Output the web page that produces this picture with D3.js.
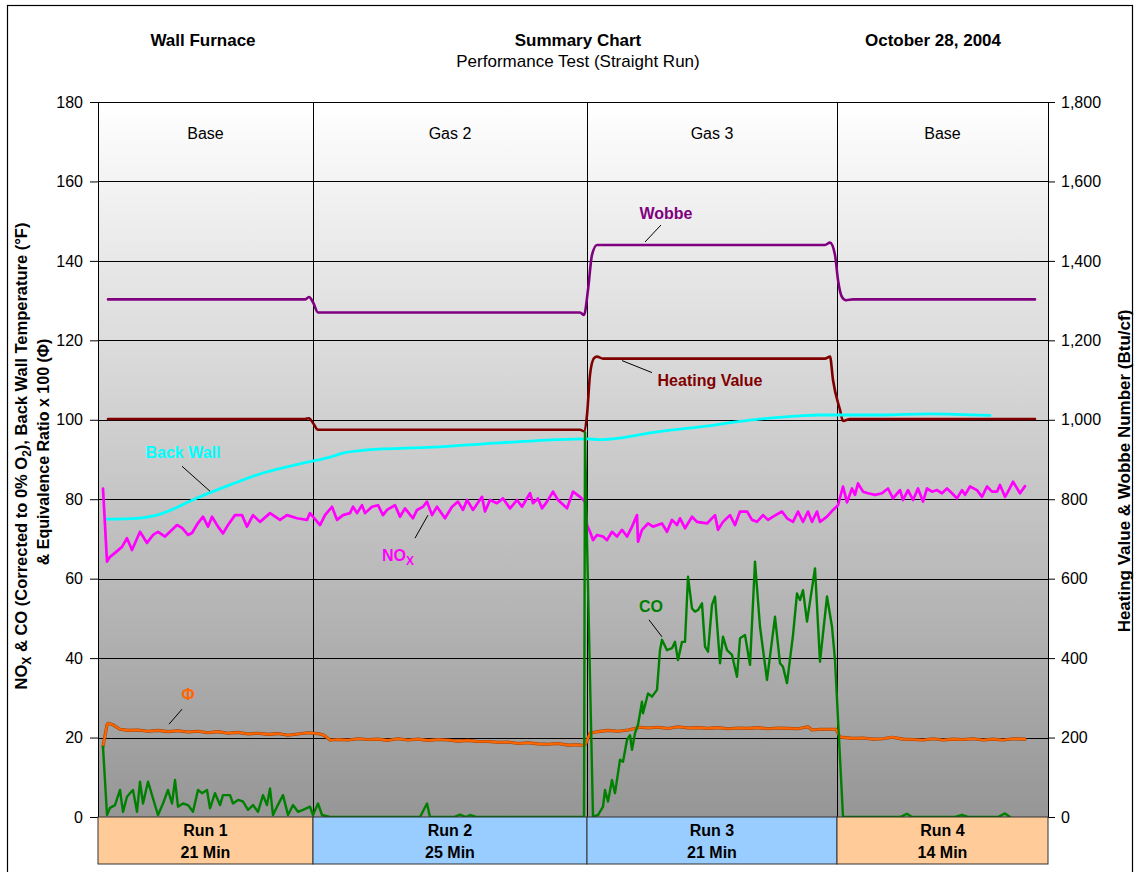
<!DOCTYPE html>
<html>

<head>
  <meta charset="utf-8" />
  <title>Summary Chart</title>
  <style>
    body {
      margin: 0;
      background: #fff;
    }

    svg text {
      font-family: "Liberation Sans", Arial, sans-serif;
    }
  </style>
  <script src="https://cdnjs.cloudflare.com/ajax/libs/d3/7.8.5/d3.min.js"></script>
</head>

<body>
  <div id="chart"></div>
  <script>
    // ---- values (x = elapsed minutes) ----
    var gasNames = ['Base', 'Gas 2', 'Gas 3', 'Base'];
    var runNames = ['Run 1', 'Run 2', 'Run 3', 'Run 4'];
    var runLengths = ['21 Min', '25 Min', '21 Min', '14 Min'];
    var runEdges = [0, 21.5, 48.9, 73.9, 95];

    var leftTicks = [0, 20, 40, 60, 80, 100, 120, 140, 160, 180];
    var rightTicks = [0, 200, 400, 600, 800, 1000, 1200, 1400, 1600, 1800];

    // Wobbe number, Btu/cf (right axis)
    var wobbeMin = [1.0, 20.7, 21.1, 21.5, 22.0, 48.2, 48.6, 49.0, 49.4, 49.9, 72.7, 73.2, 73.7, 74.0, 74.4, 74.8, 75.5, 93.7];
    var wobbe = [1303, 1303, 1309, 1296, 1270, 1270, 1264, 1327, 1415, 1440, 1440, 1446, 1415, 1352, 1309, 1301, 1303, 1303];

    // Heating value, Btu/cf (right axis)
    var heatMin = [1.0, 20.7, 21.1, 21.5, 22.0, 48.2, 48.6, 48.9, 49.2, 49.6, 49.9, 50.5, 72.7, 73.2, 73.5, 74.2, 74.5, 75.2, 93.7];
    var heat = [1002, 1002, 1004, 992, 975, 975, 971, 1012, 1113, 1155, 1159, 1154, 1154, 1159, 1100, 1025, 997, 1002, 1002];

    // Back wall temperature (left axis)
    var wallMin = [0.9, 3.9, 5.9, 9.9, 13.2, 16.5, 20.5, 23.2, 24.5, 26.9, 33.5, 40.2, 48.9, 50.2, 52.2, 55.2, 60.2, 65.2, 70.2, 72.2, 78.2, 83.2, 89.2];
    var wall = [75.0, 75.2, 76.0, 80.3, 83.6, 86.6, 89.1, 90.6, 91.6, 92.4, 93.1, 94.2, 95.2, 95.0, 95.4, 96.7, 98.2, 99.9, 101.0, 101.2, 101.2, 101.5, 101.1];

    // NOx corrected to 0% O2 (left axis)
    var noxMin = [0.5, 0.9, 1.2, 1.7, 2.4, 2.9, 3.4, 4.2, 4.9, 5.5, 6.0, 6.7, 7.9, 8.4, 9.0, 9.4, 10.0, 10.5, 11.0, 11.4,
      12.0, 12.5, 13.0, 13.7, 14.4, 14.9, 15.5, 16.2, 17.2, 18.2, 18.9, 19.9, 20.9, 21.2, 22.2, 22.7, 23.4, 23.9, 24.5, 25.2,
      25.5, 25.9, 26.4, 26.7, 27.4, 28.0, 28.5, 28.9, 29.7, 30.2, 30.7, 31.5, 31.9, 32.5, 32.9, 33.4, 33.9, 34.7, 35.4, 36.0,
      36.5, 36.9, 37.5, 38.4, 38.7, 39.2, 39.9, 40.5, 41.2, 41.9, 42.4, 43.2, 43.5, 44.0, 44.4, 44.9, 45.5, 46.0, 46.9, 47.5,
      48.2, 48.7, 48.9, 49.2, 49.5, 49.9, 50.5, 50.9, 51.4, 51.9, 52.4, 52.9, 53.4, 53.9, 54.0, 54.4, 55.0, 55.5, 56.4, 56.9,
      57.4, 57.9, 58.2, 58.7, 59.4, 59.9, 60.9, 61.7, 62.0, 62.5, 63.2, 63.7, 64.2, 64.9, 65.4, 65.9, 66.5, 67.0, 67.5, 68.4,
      68.9, 69.5, 70.0, 70.5, 71.0, 71.4, 71.9, 72.2, 72.9, 73.5, 74.0, 74.5, 74.9, 75.4, 75.7, 76.0, 76.5, 77.0, 77.7, 78.4,
      79.0, 79.5, 80.2, 80.5, 81.0, 81.5, 82.0, 82.5, 82.9, 83.4, 83.9, 84.4, 84.9, 85.4, 85.9, 86.4, 86.7, 87.2, 87.9, 88.4,
      88.9, 89.4, 89.9, 90.2, 90.7, 91.0, 91.5, 92.2, 92.7];
    var nox = [82.7, 64.3, 65.5, 66.5, 68.0, 70.2, 67.2, 71.8, 69.0, 71.0, 71.8, 70.6, 73.5, 72.8, 71.0, 71.5, 74.0, 75.6, 73.1, 75.6,
      73.1, 71.4, 73.5, 76.0, 76.0, 73.1, 76.0, 74.3, 76.5, 74.8, 76.0, 75.2, 74.8, 76.5, 73.5, 76.0, 78.1, 74.8, 76.0, 76.5,
      78.1, 76.5, 78.5, 76.5, 78.1, 78.5, 76.0, 77.3, 78.5, 75.6, 77.7, 75.2, 77.3, 78.1, 79.4, 76.0, 78.1, 75.2, 78.1, 79.4,
      77.3, 79.8, 77.3, 80.6, 76.9, 79.8, 79.0, 80.2, 77.7, 79.8, 78.1, 81.5, 79.0, 80.2, 77.7, 79.4, 81.9, 79.8, 77.7, 81.9,
      80.6, 79.4, 73.5, 71.8, 69.7, 71.0, 70.6, 69.7, 71.8, 70.6, 72.3, 70.6, 73.1, 76.0, 69.3, 72.3, 73.9, 73.1, 73.9, 71.8,
      74.8, 73.5, 75.2, 72.7, 75.6, 74.3, 73.9, 76.0, 72.3, 74.3, 76.0, 73.5, 76.9, 76.9, 74.8, 74.3, 76.0, 74.8, 75.6, 76.9,
      75.2, 74.3, 76.9, 74.3, 76.9, 74.3, 76.9, 74.3, 75.6, 77.3, 78.5, 83.2, 79.2, 82.7, 81.1, 84.0, 81.9, 81.5, 81.1, 81.5,
      82.7, 80.2, 82.3, 79.8, 82.3, 79.8, 82.7, 79.4, 82.7, 81.9, 82.3, 81.5, 82.7, 81.5, 80.2, 82.3, 81.1, 83.2, 82.3, 80.6,
      83.2, 81.9, 81.9, 83.6, 80.6, 81.9, 84.4, 81.5, 83.3];

    // CO corrected to 0% O2 (left axis)
    var coMin = [0.5, 0.9, 1.2, 1.7, 2.2, 2.5, 2.9, 3.2, 3.5, 3.9, 4.2, 4.5, 5.0, 5.5, 6.0, 6.5, 7.0, 7.4, 7.7, 8.0,
      8.5, 9.0, 9.5, 10.0, 10.4, 10.9, 11.2, 11.7, 12.2, 12.5, 13.2, 13.5, 14.0, 14.5, 15.0, 15.5, 16.0, 16.5, 16.9, 17.2,
      17.5, 17.9, 18.5, 19.0, 19.5, 20.0, 20.5, 21.2, 21.5, 22.0, 22.4, 23.2, 32.2, 32.9, 33.2, 35.6, 36.2, 36.8, 37.2, 37.8,
      48.6, 48.7, 48.9, 49.5, 50.0, 50.5, 50.7, 51.0, 51.4, 51.7, 52.2, 52.5, 52.9, 53.2, 53.4, 53.7, 54.0, 54.4, 54.5, 55.0,
      55.4, 55.9, 56.2, 56.4, 56.9, 57.4, 57.7, 58.0, 58.4, 58.7, 59.0, 59.4, 59.7, 60.0, 60.4, 60.7, 61.0, 61.4, 61.7, 62.2,
      62.5, 62.9, 63.4, 63.9, 64.2, 64.7, 65.2, 65.7, 66.2, 66.9, 67.7, 68.2, 68.5, 68.9, 69.5, 69.9, 70.2, 70.5, 70.9, 71.7,
      72.2, 72.9, 73.4, 73.7, 74.5, 76.2, 80.2, 80.9, 81.4, 85.7, 86.4, 87.0, 90.0, 90.7, 91.2];
    var co = [17.7, 0.5, 2.3, 3.0, 6.8, 1.3, 5.1, 6.0, 6.8, 1.3, 8.9, 3.4, 8.9, 4.7, 0.5, 3.4, 6.8, 3.4, 9.3, 2.6,
      3.4, 3.0, 1.3, 6.8, 6.0, 6.8, 2.2, 6.0, 3.0, 5.5, 5.5, 3.4, 4.3, 3.9, 1.8, 3.0, 1.3, 5.5, 3.0, 7.2,
      0.5, 2.6, 5.5, 0.5, 3.0, 1.3, 1.8, 2.6, 0.5, 3.4, 0.5, 0.0, 0.0, 3.4, 0.0, 0.0, 0.6, 0.0, 0.5, 0.0,
      0.0, 96.9, 69.7, 0.1, 0.5, 2.6, 6.8, 3.9, 9.3, 6.0, 14.4, 13.9, 19.4, 20.6, 16.9, 21.1, 23.2, 29.0, 26.1, 31.1,
      30.3, 32.0, 42.0, 44.6, 42.0, 42.5, 44.1, 39.5, 44.1, 44.1, 60.5, 52.5, 51.7, 52.1, 53.8, 42.9, 41.6, 53.4, 55.5, 38.7,
      45.4, 42.0, 40.8, 35.3, 45.0, 45.8, 38.3, 64.3, 47.9, 34.5, 50.4, 38.7, 37.8, 33.7, 45.8, 56.3, 54.6, 57.1, 49.2, 62.6,
      39.1, 55.5, 47.9, 39.5, 0.1, 0.0, 0.0, 0.8, 0.0, 0.0, 0.5, 0.0, 0.0, 0.9, 0.0];

    // Equivalence ratio x 100 (left axis)
    var phiMin = [0.5, 0.9, 1.0, 1.5, 2.2, 3.0, 4.0, 5.0, 6.0, 7.0, 8.0, 9.0, 10.0, 11.0, 12.0, 13.0, 14.0, 15.0, 16.0, 17.0,
      18.0, 19.0, 20.0, 21.0, 22.0, 22.6, 23.2, 24.0, 25.0, 26.0, 27.0, 28.0, 29.0, 30.0, 31.0, 32.0, 33.0, 34.0, 35.0, 36.0,
      37.0, 38.0, 39.0, 40.0, 41.0, 42.0, 43.0, 44.0, 45.0, 46.0, 47.0, 48.0, 48.6, 48.8, 49.2, 50.0, 51.0, 52.0, 53.0, 54.2,
      55.0, 56.0, 57.0, 58.0, 59.0, 60.0, 61.0, 62.0, 63.0, 64.0, 65.0, 66.0, 67.0, 68.0, 69.0, 70.0, 71.0, 71.4, 72.2, 73.8,
      74.2, 75.5, 76.5, 77.5, 78.5, 79.4, 80.5, 81.5, 82.5, 83.5, 84.5, 85.5, 86.5, 87.5, 88.5, 89.5, 90.5, 91.5, 92.7];
    var phi = [17.7, 23.2, 23.6, 23.2, 22.1, 21.8, 21.9, 21.6, 21.8, 21.5, 21.7, 21.4, 21.6, 21.2, 21.5, 21.1, 21.3, 20.9, 21.1, 20.8,
      21.0, 20.6, 20.9, 21.2, 21.0, 20.6, 19.4, 19.5, 19.4, 19.7, 19.5, 19.6, 19.3, 19.7, 19.4, 19.6, 19.3, 19.5, 19.4, 19.1,
      19.3, 19.0, 19.0, 18.8, 18.9, 18.5, 18.7, 18.4, 18.3, 18.5, 18.1, 18.2, 18.0, 18.6, 21.1, 21.5, 21.8, 21.6, 21.9, 22.6,
      22.4, 22.6, 22.3, 22.7, 22.4, 22.5, 22.3, 22.5, 22.2, 22.4, 22.3, 22.5, 22.2, 22.4, 22.3, 22.2, 22.7, 21.9, 22.1, 22.1,
      20.1, 19.8, 19.9, 19.6, 19.7, 20.1, 19.6, 19.5, 19.4, 19.7, 19.4, 19.6, 19.5, 19.7, 19.4, 19.6, 19.4, 19.7, 19.6];

    // ---- layout ----
    var w = 1138, h = 872;
    var plotL = 98, plotR = 1048, plotT = 102, plotB = 817, boxB = 864;

    var x = d3.scaleLinear().domain([0, 95]).range([plotL, plotR]);
    var yL = d3.scaleLinear().domain([0, 180]).range([plotB, plotT]);
    var yR = d3.scaleLinear().domain([0, 1800]).range([plotB, plotT]);

    var svg = d3.select('#chart').append('svg')
      .attr('width', w)
      .attr('height', h);

    var defs = svg.append('defs');
    var grad = defs.append('linearGradient')
      .attr('id', 'bg')
      .attr('x1', 0).attr('y1', 0).attr('x2', 0).attr('y2', 1);
    grad.append('stop').attr('offset', '0%').attr('stop-color', '#ffffff');
    grad.append('stop').attr('offset', '100%').attr('stop-color', '#969696');
    defs.append('clipPath').attr('id', 'plotClip')
      .append('rect')
      .attr('x', plotL).attr('y', plotT - 2)
      .attr('width', plotR - plotL).attr('height', plotB - plotT + 2);

    // outer frame
    svg.append('rect')
      .attr('x', 7.5).attr('y', 5.5)
      .attr('width', 1125).attr('height', 900)
      .attr('fill', 'none').attr('stroke', '#000').attr('stroke-width', 1.2);

    // plot background
    svg.append('rect')
      .attr('x', plotL).attr('y', plotT)
      .attr('width', plotR - plotL).attr('height', plotB - plotT)
      .attr('fill', 'url(#bg)');

    // horizontal gridlines
    svg.append('g').selectAll('line')
      .data(leftTicks)
      .enter().append('line')
      .attr('x1', plotL).attr('x2', plotR)
      .attr('y1', d => Math.round(yL(d)) + 0.5)
      .attr('y2', d => Math.round(yL(d)) + 0.5)
      .attr('stroke', '#000').attr('stroke-width', 1);

    // run dividers
    svg.append('g').selectAll('line')
      .data(runEdges.slice(1, -1))
      .enter().append('line')
      .attr('x1', d => Math.round(x(d)) + 0.5).attr('x2', d => Math.round(x(d)) + 0.5)
      .attr('y1', plotT).attr('y2', plotB)
      .attr('stroke', '#000').attr('stroke-width', 1);

    // gas labels
    svg.append('g').selectAll('text')
      .data(gasNames)
      .enter().append('text')
      .attr('x', (d, i) => (x(runEdges[i]) + x(runEdges[i + 1])) / 2)
      .attr('y', 139)
      .attr('text-anchor', 'middle')
      .attr('font-size', 16)
      .text(d => d);

    // series
    var lineL = d3.line().x(d => x(d[0])).y(d => yL(d[1]));
    var smoothR = d3.line().curve(d3.curveMonotoneX).x(d => x(d[0])).y(d => yR(d[1]));
    var smoothL = d3.line().curve(d3.curveMonotoneX).x(d => x(d[0])).y(d => yL(d[1]));

    var series = svg.append('g').attr('clip-path', 'url(#plotClip)')
      .attr('fill', 'none')
      .attr('stroke-linejoin', 'round')
      .attr('stroke-linecap', 'round');

    series.append('path')
      .attr('d', smoothR(d3.zip(wobbeMin, wobbe)))
      .attr('stroke', '#800080').attr('stroke-width', 2.6);
    series.append('path')
      .attr('d', smoothR(d3.zip(heatMin, heat)))
      .attr('stroke', '#800000').attr('stroke-width', 2.6);
    series.append('path')
      .attr('d', smoothL(d3.zip(wallMin, wall)))
      .attr('stroke', '#00ffff').attr('stroke-width', 2.8);
    series.append('path')
      .attr('d', lineL(d3.zip(noxMin, nox)))
      .attr('stroke', '#ff00ff').attr('stroke-width', 2.7);
    series.append('path')
      .attr('d', lineL(d3.zip(phiMin, phi)))
      .attr('stroke', '#a04000').attr('stroke-width', 3.1);
    series.append('path')
      .attr('d', lineL(d3.zip(phiMin, phi)))
      .attr('stroke', '#ff6600').attr('stroke-width', 2.1);
    series.append('path')
      .attr('d', lineL(d3.zip(coMin, co)))
      .attr('stroke', '#008000').attr('stroke-width', 2.4);

    // axes
    var axL = svg.append('g')
      .attr('transform', 'translate(' + plotL + ',0)')
      .call(d3.axisLeft(yL).tickValues(leftTicks).tickSize(8).tickPadding(7).tickSizeOuter(0));
    var axR = svg.append('g')
      .attr('transform', 'translate(' + plotR + ',0)')
      .call(d3.axisRight(yR).tickValues(rightTicks).tickFormat(d3.format(',')).tickSize(7).tickPadding(6).tickSizeOuter(0));
    [axL, axR].forEach(function (g) {
      g.selectAll('text').attr('font-size', 16).attr('fill', '#000')
        .style('font-family', '"Liberation Sans", Arial, sans-serif');
      g.selectAll('line, path').attr('stroke', '#000');
    });

    // run boxes
    var boxColors = ['#ffcc99', '#99ccff', '#99ccff', '#ffcc99'];
    var boxes = svg.append('g').selectAll('g')
      .data(runNames)
      .enter().append('g');
    boxes.append('rect')
      .attr('x', (d, i) => x(runEdges[i]))
      .attr('y', plotB)
      .attr('width', (d, i) => x(runEdges[i + 1]) - x(runEdges[i]))
      .attr('height', boxB - plotB)
      .attr('fill', (d, i) => boxColors[i])
      .attr('stroke', '#333').attr('stroke-width', 1);
    boxes.append('text')
      .attr('x', (d, i) => (x(runEdges[i]) + x(runEdges[i + 1])) / 2)
      .attr('y', 836)
      .attr('text-anchor', 'middle').attr('font-size', 16).attr('font-weight', 'bold')
      .text(d => d);
    boxes.append('text')
      .attr('x', (d, i) => (x(runEdges[i]) + x(runEdges[i + 1])) / 2)
      .attr('y', 858)
      .attr('text-anchor', 'middle').attr('font-size', 16).attr('font-weight', 'bold')
      .text((d, i) => runLengths[i]);

    // titles
    svg.append('text').attr('x', 203).attr('y', 46)
      .attr('text-anchor', 'middle').attr('font-size', 17).attr('font-weight', 'bold')
      .text('Wall Furnace');
    svg.append('text').attr('x', 578).attr('y', 46)
      .attr('text-anchor', 'middle').attr('font-size', 17).attr('font-weight', 'bold')
      .text('Summary Chart');
    svg.append('text').attr('x', 578).attr('y', 67)
      .attr('text-anchor', 'middle').attr('font-size', 17)
      .text('Performance Test (Straight Run)');
    svg.append('text').attr('x', 933).attr('y', 46)
      .attr('text-anchor', 'middle').attr('font-size', 17).attr('font-weight', 'bold')
      .text('October 28, 2004');

    // left axis title (two lines)
    var lt = svg.append('text')
      .attr('transform', 'translate(27,456) rotate(-90)')
      .attr('text-anchor', 'middle').attr('font-size', 16.5).attr('font-weight', 'bold');
    lt.append('tspan').text('NO');
    lt.append('tspan').attr('font-size', 12).attr('dy', 4).text('X');
    lt.append('tspan').attr('dy', -4).text(' & CO (Corrected to 0% O');
    lt.append('tspan').attr('font-size', 12).attr('dy', 4).text('2');
    lt.append('tspan').attr('dy', -4).text('), Back Wall Temperature (°F)');
    svg.append('text')
      .attr('transform', 'translate(49,452) rotate(-90)')
      .attr('text-anchor', 'middle').attr('font-size', 16).attr('font-weight', 'bold')
      .text('& Equivalence Ratio x 100 (Φ)');

    // right axis title
    svg.append('text')
      .attr('transform', 'translate(1130,471) rotate(-90)')
      .attr('text-anchor', 'middle').attr('font-size', 17).attr('font-weight', 'bold')
      .text('Heating Value & Wobbe Number (Btu/cf)');

    // series callouts: anchor on a series point, leader line, label
    var callouts = [
      { text: 'Wobbe', color: '#800080', t: 54.7, y: yR(1440), l: [0, -3, 16, -20], lab: [21, -26] },
      { text: 'Heating Value', color: '#800000', t: 52.2, y: yR(1154), l: [2, 2, 32, 14], lab: [90, 27] },
      { text: 'Back Wall', color: '#00ffff', t: 11.2, y: yL(81.5), l: [0, -2, -28, -27], lab: [-27, -35] },
      { text: 'NO', sub: 'X', color: '#ff00ff', t: 33.0, y: yL(76.0), l: [0, 0, -13, 23], lab: [-30, 46] },
      { text: 'CO', color: '#008000', t: 56.4, y: yL(44.6), l: [0, -3, -13, -20], lab: [-11, -28] },
      { text: 'Φ', color: '#ff6600', t: 7.1, y: yL(21.6), l: [0, -7, 13, -22], lab: [19, -31] }
    ];
    var cg = svg.append('g').selectAll('g')
      .data(callouts)
      .enter().append('g');
    cg.append('line')
      .attr('x1', d => x(d.t) + d.l[0]).attr('y1', d => d.y + d.l[1])
      .attr('x2', d => x(d.t) + d.l[2]).attr('y2', d => d.y + d.l[3])
      .attr('stroke', '#000').attr('stroke-width', 1);
    var labs = cg.append('text')
      .attr('x', d => x(d.t) + d.lab[0]).attr('y', d => d.y + d.lab[1])
      .attr('text-anchor', 'middle').attr('font-size', 16).attr('font-weight', 'bold')
      .attr('fill', d => d.color);
    labs.append('tspan').text(d => d.text);
    labs.filter(d => d.sub).append('tspan')
      .attr('font-size', 12).attr('dy', 4).text(d => d.sub);
  </script>
</body>

</html>
